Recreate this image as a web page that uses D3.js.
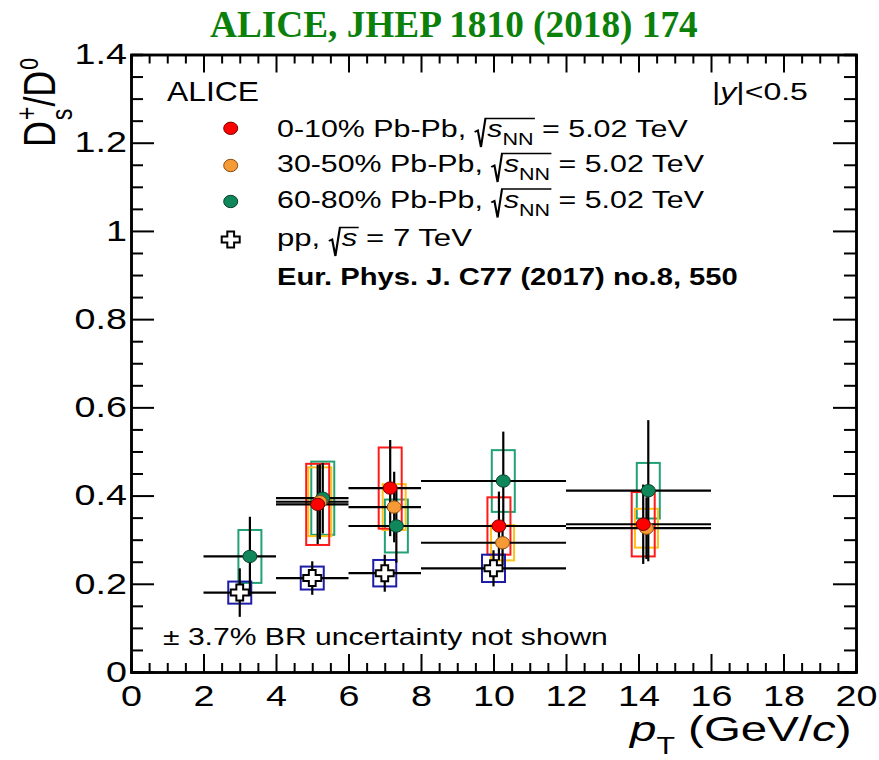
<!DOCTYPE html>
<html><head><meta charset="utf-8">
<script src="https://cdn.jsdelivr.net/npm/d3@7"></script>
<style>body{margin:0;background:#fff} svg{display:block}</style>
</head><body>
<svg id="c" width="879" height="760"></svg>
<script>
// ---------------- DATA ----------------
const xTickValues = [0, 2, 4, 6, 8, 10, 12, 14, 16, 18, 20];
const xTickLabels = ["0", "2", "4", "6", "8", "10", "12", "14", "16", "18", "20"];
const yTickValues = [0, 0.2, 0.4, 0.6, 0.8, 1.0, 1.2, 1.4];
const yTickLabels = ["0", "0.2", "0.4", "0.6", "0.8", "1", "1.2", "1.4"];

// 60-80% Pb-Pb
const c6080_pt   = [3.28, 5.29, 7.32, 10.27, 14.27];
const c6080_lo   = [2, 4, 6, 8, 12];
const c6080_hi   = [4, 6, 8, 12, 16];
const c6080_val  = [0.262, 0.394, 0.331, 0.433, 0.411];
const c6080_stat = [0.090, 0.080, 0.083, 0.112, 0.160];
const c6080_syst = [0.060, 0.083, 0.060, 0.070, 0.063];

// 30-50% Pb-Pb
const c3050_pt   = [5.21, 7.26, 10.25, 14.22];
const c3050_lo   = [4, 6, 8, 12];
const c3050_hi   = [6, 8, 12, 16];
const c3050_val  = [0.386, 0.374, 0.293, 0.326];
const c3050_stat = [0.085, 0.080, 0.050, 0.070];
const c3050_syst = [0.078, 0.052, 0.040, 0.044];

// 0-10% Pb-Pb
const c010_pt   = [5.15, 7.15, 10.15, 14.13];
const c010_lo   = [4, 6, 8, 12];
const c010_hi   = [6, 8, 12, 16];
const c010_val  = [0.380, 0.417, 0.331, 0.335];
const c010_stat = [0.090, 0.109, 0.078, 0.090];
const c010_syst = [0.092, 0.092, 0.065, 0.073];

// pp 7 TeV
const pp_pt   = [3, 5, 7, 10];
const pp_lo   = [2, 4, 6, 8];
const pp_hi   = [4, 6, 8, 12];
const pp_val  = [0.180, 0.213, 0.224, 0.235];
const pp_stat = [0.055, 0.038, 0.042, 0.041];
const pp_syst = [0.025, 0.026, 0.030, 0.031];

// --------------- BUILD ----------------
function rows(pt, lo, hi, val, stat, syst) {
  return pt.map((p, i) => ({pt: p, lo: lo[i], hi: hi[i], v: val[i], st: stat[i], sy: syst[i]}));
}
const series = [
  {name: "60-80", rows: rows(c6080_pt, c6080_lo, c6080_hi, c6080_val, c6080_stat, c6080_syst), fill: "#10875a", edge: "#07402a", box: "#22a274", marker: "circle"},
  {name: "30-50", rows: rows(c3050_pt, c3050_lo, c3050_hi, c3050_val, c3050_stat, c3050_syst), fill: "#f59a35", edge: "#8a4d10", box: "#ffc21a", marker: "circle"},
  {name: "0-10",  rows: rows(c010_pt, c010_lo, c010_hi, c010_val, c010_stat, c010_syst), fill: "#ff0000", edge: "#7a0000", box: "#ff1a1a", marker: "circle"},
  {name: "pp",    rows: rows(pp_pt, pp_lo, pp_hi, pp_val, pp_stat, pp_syst), fill: "#ffffff", edge: "#000000", box: "#1c1ca8", marker: "cross"}
];

const FONT = '"Liberation Sans", Arial, Helvetica, sans-serif';
const svg = d3.select("#c");
const X0 = 131, X1 = 856, YB = 672, YT = 54.5;
const x = d3.scaleLinear().domain([0, 20]).range([X0, X1]);
const y = d3.scaleLinear().domain([0, 1.4]).range([YB, YT]);

// ---------------- DATA MARKS ----------------
const boxW = 23;
const gBoxes = svg.append("g");
const gErr = svg.append("g");
const gMk = svg.append("g");

series.forEach(s => {
  gBoxes.selectAll(null).data(s.rows).join("rect")
    .attr("x", d => x(d.pt) - boxW / 2)
    .attr("y", d => y(d.v + d.sy))
    .attr("width", boxW)
    .attr("height", d => y(d.v - d.sy) - y(d.v + d.sy))
    .attr("fill", "none").attr("stroke", s.box).attr("stroke-width", 2);
});
series.forEach(s => {
  gErr.selectAll(null).data(s.rows).join("line")
    .attr("x1", d => x(d.lo)).attr("x2", d => x(d.hi))
    .attr("y1", d => y(d.v)).attr("y2", d => y(d.v))
    .attr("stroke", "#000").attr("stroke-width", 2.2);
  gErr.selectAll(null).data(s.rows).join("line")
    .attr("x1", d => x(d.pt)).attr("x2", d => x(d.pt))
    .attr("y1", d => y(d.v - d.st)).attr("y2", d => y(d.v + d.st))
    .attr("stroke", "#000").attr("stroke-width", 2.2);
});
const crossPath = (ax, ay, lx, ly) =>
  `M${-ax},${-ly}H${ax}V${-ay}H${lx}V${ay}H${ax}V${ly}H${-ax}V${ay}H${-lx}V${-ay}H${-ax}Z`;
function drawMarker(g, s, cx, cy) {
  if (s.marker === "circle") {
    g.append("ellipse").attr("cx", cx).attr("cy", cy).attr("rx", 7).attr("ry", 6.2)
      .attr("fill", s.fill).attr("stroke", s.edge).attr("stroke-width", 1);
  } else {
    g.append("path").attr("transform", `translate(${cx},${cy})`)
      .attr("d", crossPath(3.4, 3, 9, 8))
      .attr("fill", "#fff").attr("stroke", "#000").attr("stroke-width", 2);
  }
}
series.forEach(s => s.rows.forEach(d => drawMarker(gMk, s, x(d.pt), y(d.v))));

// ---------------- AXES ----------------
const xMinor = d3.range(0, 20.001, 0.5).filter(v => Math.abs(v % 2) > 1e-6);
const yMinor = d3.range(0, 1.4001, 0.05).filter(v => Math.abs(v / 0.2 - Math.round(v / 0.2)) > 1e-6);
function styleAxis(g) {
  g.select(".domain").attr("stroke", "#000").attr("stroke-width", 2.5);
  g.selectAll(".tick line").attr("stroke", "#000").attr("stroke-width", 2);
}
const LBL = 29, SX = 1.3;
// bottom
svg.append("g").attr("transform", `translate(0,${YB})`)
  .call(d3.axisBottom(x).tickValues(xMinor).tickSize(-9).tickFormat("")).call(styleAxis);
const gxB = svg.append("g").attr("transform", `translate(0,${YB})`)
  .call(d3.axisBottom(x).tickValues(xTickValues).tickSizeInner(-18).tickSizeOuter(0).tickPadding(13)
    .tickFormat((d, i) => xTickLabels[i]))
  .call(styleAxis);
gxB.attr("font-size", LBL).attr("font-family", FONT);
gxB.selectAll(".tick text").attr("fill", "#000").attr("transform", `scale(${SX},1)`);
// top
svg.append("g").attr("transform", `translate(0,${YT})`)
  .call(d3.axisTop(x).tickValues(xMinor).tickSize(-9).tickFormat("")).call(styleAxis);
svg.append("g").attr("transform", `translate(0,${YT})`)
  .call(d3.axisTop(x).tickValues(xTickValues).tickSizeInner(-18).tickSizeOuter(0).tickFormat("")).call(styleAxis);
// left
svg.append("g").attr("transform", `translate(${X0},0)`)
  .call(d3.axisLeft(y).tickValues(yMinor).tickSize(-12).tickFormat("")).call(styleAxis);
const pad = 4;
const gyL = svg.append("g").attr("transform", `translate(${X0},0)`)
  .call(d3.axisLeft(y).tickValues(yTickValues).tickSizeInner(-23).tickSizeOuter(0).tickPadding(pad)
    .tickFormat((d, i) => yTickLabels[i]))
  .call(styleAxis);
gyL.attr("font-size", LBL).attr("font-family", FONT);
gyL.selectAll(".tick text").attr("fill", "#000").attr("x", -pad / SX).attr("transform", `scale(${SX},1)`);
// right
svg.append("g").attr("transform", `translate(${X1},0)`)
  .call(d3.axisRight(y).tickValues(yMinor).tickSize(-12).tickFormat("")).call(styleAxis);
svg.append("g").attr("transform", `translate(${X1},0)`)
  .call(d3.axisRight(y).tickValues(yTickValues).tickSizeInner(-23).tickSizeOuter(0).tickFormat("")).call(styleAxis);

// ---------------- TEXT ----------------
function fitText(parent, o) {
  const g = parent.append("g");
  const t = g.append("text").attr("font-size", o.size).attr("font-family", o.family || FONT)
    .attr("font-weight", o.weight || "normal").attr("fill", o.fill || "#000")
    .attr("text-anchor", o.anchor || "start");
  let idx = 0, radS = null, radE = null;
  o.parts.forEach(p => {
    if (typeof p === "string") p = {t: p};
    const ts = t.append("tspan").text(p.t);
    if (p.italic) ts.attr("font-style", "italic");
    if (p.size) ts.attr("font-size", p.size);
    if (p.dy) ts.attr("dy", p.dy);
    if (p.dx) ts.attr("dx", p.dx);
    if (p.radStart) radS = idx;
    idx += p.t.length;
    if (p.radEnd) radE = idx - 1;
  });
  const bb = t.node().getBBox();
  const sx = o.width ? o.width / bb.width : 1;
  g.attr("transform", `translate(${o.x},${o.y}) scale(${sx},1)`);
  if (radS !== null && radE !== null) {
    const e1 = t.node().getExtentOfChar(radS), e2 = t.node().getExtentOfChar(radE);
    const L = e1.x, R = e2.x + e2.width;
    g.append("path").attr("fill", "none").attr("stroke", "#000").attr("stroke-width", 1.7)
      .attr("stroke-linejoin", "miter")
      .attr("d", `M${L - 10},-5 l2.5,-1.6 L${L - 5},10 L${L - 1.5},-18.5 H${R + 1}`);
  }
  return g;
}

// title
fitText(svg, {x: 210, y: 37, size: 37, weight: "bold", family: '"Liberation Serif", "Times New Roman", serif',
  fill: "#0b800b", width: 488, parts: ["ALICE, JHEP 1810 (2018) 174"]});

// ALICE & |y|
fitText(svg, {x: 167, y: 100.5, size: 28, width: 92, parts: ["ALICE"]});
fitText(svg, {x: 712, y: 100, size: 24, width: 96, parts: ["|", {t: "y", italic: true}, "|<0.5"]});

// legend
const legendLabels = ["0-10% Pb-Pb, ", "30-50% Pb-Pb, ", "60-80% Pb-Pb, "];
const legendSeries = [series[2], series[1], series[0]];
const legY = [137, 172, 207.5];
const legW = [411, 427, 427];
const legMkY = [128.3, 165.5, 201.5];
legendLabels.forEach((lab, i) => {
  fitText(svg, {x: 277, y: legY[i], size: 24, width: legW[i], parts: [
    lab, {t: "s", italic: true, dx: 10, radStart: true}, {t: "NN", size: 17, dy: 8, radEnd: true}, {t: " = 5.02 TeV", dy: -8}]});
  drawMarker(svg, legendSeries[i], 230.7, legMkY[i]);
});
fitText(svg, {x: 277, y: 246, size: 24, width: 195, parts: [
  "pp, ", {t: "s", italic: true, dx: 10, radStart: true, radEnd: true}, " = 7 TeV"]});
drawMarker(svg, series[3], 230.7, 239.5);
fitText(svg, {x: 277, y: 285, size: 24, weight: "bold", width: 461, parts: ["Eur. Phys. J. C77 (2017) no.8, 550"]});

// BR note
fitText(svg, {x: 163, y: 645, size: 24, width: 445, parts: ["\u00b1 3.7% BR uncertainty not shown"]});

// x-axis title
fitText(svg, {x: 630, y: 741, size: 36, width: 223, parts: [
  {t: "p", italic: true}, {t: "T", size: 23, dy: 13}, {t: " (GeV/", dy: -13}, {t: "c", italic: true}, ")"]});

// y-axis title (rotated)
(function () {
  const g = svg.append("g");
  const add = (txt, size, dy, xx) => g.append("text").attr("font-family", FONT).attr("font-size", size)
    .attr("x", xx).attr("y", dy).attr("fill", "#000").text(txt);
  let cx = 0;
  const d1 = add("D", 37, 0, cx); cx += d1.node().getComputedTextLength();
  const sp = add("+", 24, -15, cx + 1); const ss = add("s", 24, 14, cx + 1);
  cx += 1 + Math.max(sp.node().getComputedTextLength(), ss.node().getComputedTextLength());
  const d2 = add("/D", 37, 0, cx); cx += d2.node().getComputedTextLength();
  const z = add("0", 22, -14, cx + 1); cx += 1 + z.node().getComputedTextLength();
  const sLen = 89 / cx;
  g.attr("transform", `translate(55,147) rotate(-90) scale(${sLen},1.2)`);
})();
</script>
</body></html>
